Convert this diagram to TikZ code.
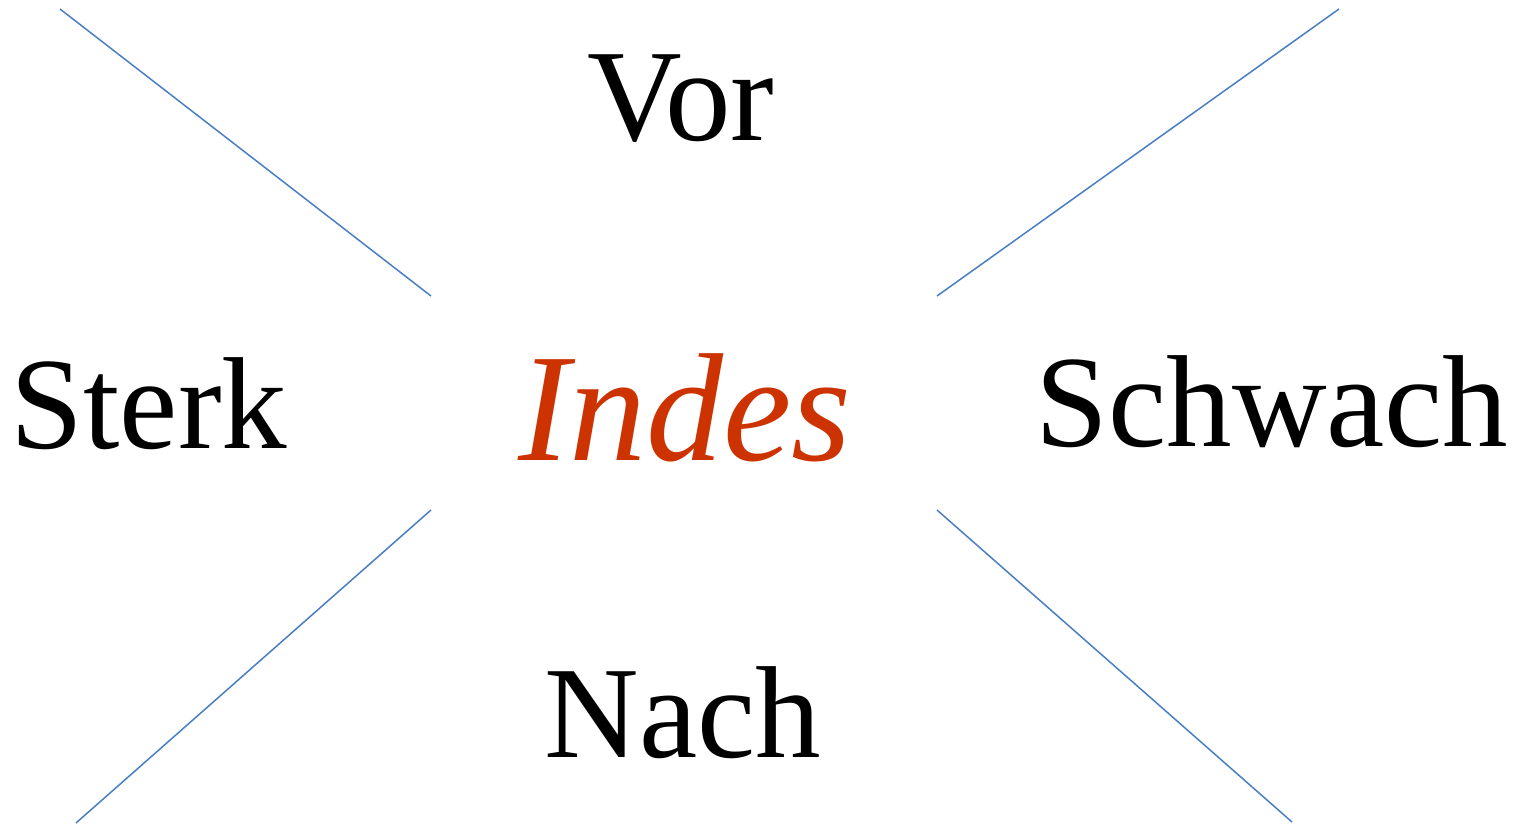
\documentclass[tikz,border=0pt]{standalone}
\usepackage{fontspec}
\setmainfont{Liberation Serif}
\definecolor{lineblue}{HTML}{4A7EC4}
\definecolor{indesred}{HTML}{CC3300}
\tikzset{
  word/.style={anchor=base, inner sep=0pt, font=\fontsize{65.5}{72}\selectfont, text=black},
  center word/.style={anchor=base, inner sep=0pt, font=\fontsize{77}{84}\selectfont\itshape, text=indesred},
  xline/.style={draw=lineblue, line width=0.75pt}
}
\begin{document}
\begin{tikzpicture}[x=0.5pt,y=-0.5pt]
\useasboundingbox (0,0) rectangle (1523,825);
\node[word] (vor) at (681,140) {Vor};
\node[word] (sterk) at (149,448) {Sterk};
\node[word] (schwach) at (1272,446) {Schwach};
\node[word] (nach) at (683,757) {Nach};
\node[center word] (indes) at (685,460) {Indes};
\coordinate (tl1) at (60,9);
\coordinate (tl2) at (431,296);
\coordinate (tr1) at (1339,9);
\coordinate (tr2) at (937,296);
\coordinate (bl1) at (431,510);
\coordinate (bl2) at (76,823);
\coordinate (br1) at (937,510);
\coordinate (br2) at (1292,822);
\draw[xline] (tl1) -- (tl2);
\draw[xline] (tr1) -- (tr2);
\draw[xline] (bl1) -- (bl2);
\draw[xline] (br1) -- (br2);
\end{tikzpicture}
\end{document}
